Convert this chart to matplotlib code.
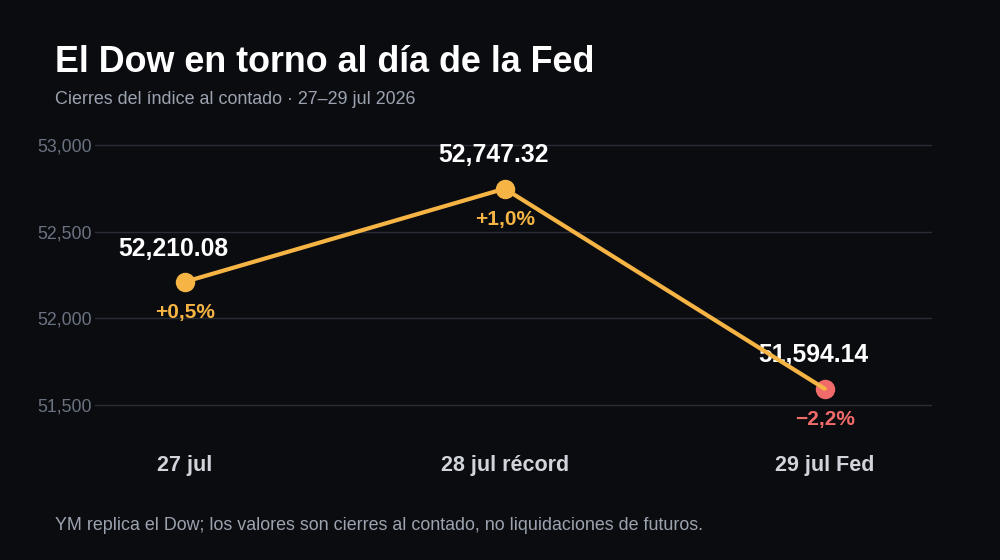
import numpy as np
import matplotlib.pyplot as plt
import matplotlib as mpl

mpl.rcParams['font.family'] = ['Liberation Sans', 'DejaVu Sans']

# data
dias = ['27 jul', '28 jul récord', '29 jul Fed']
cierres = [52210.08, 52747.32, 51594.14]
cambios = ['+0,5%', '+1,0%', '\u22122,2%']
colores = ['#f5b444', '#f5b444', '#f26b6b']
yticks = [51500, 52000, 52500, 53000]

bg = '#0a0c10'
naranja = '#f5b444'

fig = plt.figure(figsize=(10, 5.6), dpi=100, facecolor=bg)
ax = fig.add_axes([0.095, 0.214, 0.837, 0.554], facecolor=bg)

x = np.arange(len(dias))

# markers first, line on top of them (and of the labels)
for i in range(len(x)):
    ax.plot(x[i], cierres[i], 'o', ms=13, color=colores[i], zorder=3)
ax.plot(x, cierres, '-', lw=3, color=naranja, zorder=5, solid_capstyle='round')

for i in range(len(x)):
    ax.annotate(f'{cierres[i]:,.2f}', (x[i], cierres[i]), xytext=(-8, 24),
                textcoords='offset points', ha='center', va='center',
                color='white', fontsize=17.8, fontweight='bold', zorder=4)
    ax.annotate(cambios[i], (x[i], cierres[i]), xytext=(0, -22),
                textcoords='offset points', ha='center', va='center',
                color=colores[i], fontsize=15, fontweight='bold', zorder=4)

ax.set_xlim(-0.28, 2.335)
ax.set_ylim(51298, 53086)
ax.set_yticks(yticks)
ax.set_yticklabels([f'{v:,}' for v in yticks])
ax.set_xticks(x)
ax.set_xticklabels(dias)
ax.grid(axis='y', color='#2a2d35', lw=1)
ax.set_axisbelow(True)
for s in ax.spines.values():
    s.set_visible(False)
ax.tick_params(axis='y', length=0, pad=2, labelsize=12.8, labelcolor='#6b7280')
ax.tick_params(axis='x', length=0, pad=11, labelsize=15.5, labelcolor='#d1d5db')
for t in ax.get_xticklabels():
    t.set_fontweight('bold')

fig.text(0.055, 0.889, 'El Dow en torno al día de la Fed', color='white',
         fontsize=25.8, fontweight='bold', va='center')
fig.text(0.055, 0.822, 'Cierres del índice al contado · 27\u201329 jul 2026',
         color='#9ca3af', fontsize=12.9, va='center')
fig.text(0.055, 0.062, 'YM replica el Dow; los valores son cierres al contado, no liquidaciones de futuros.',
         color='#9ca3af', fontsize=12.9, va='center')

fig.savefig('out.png', dpi=100, facecolor=bg)
